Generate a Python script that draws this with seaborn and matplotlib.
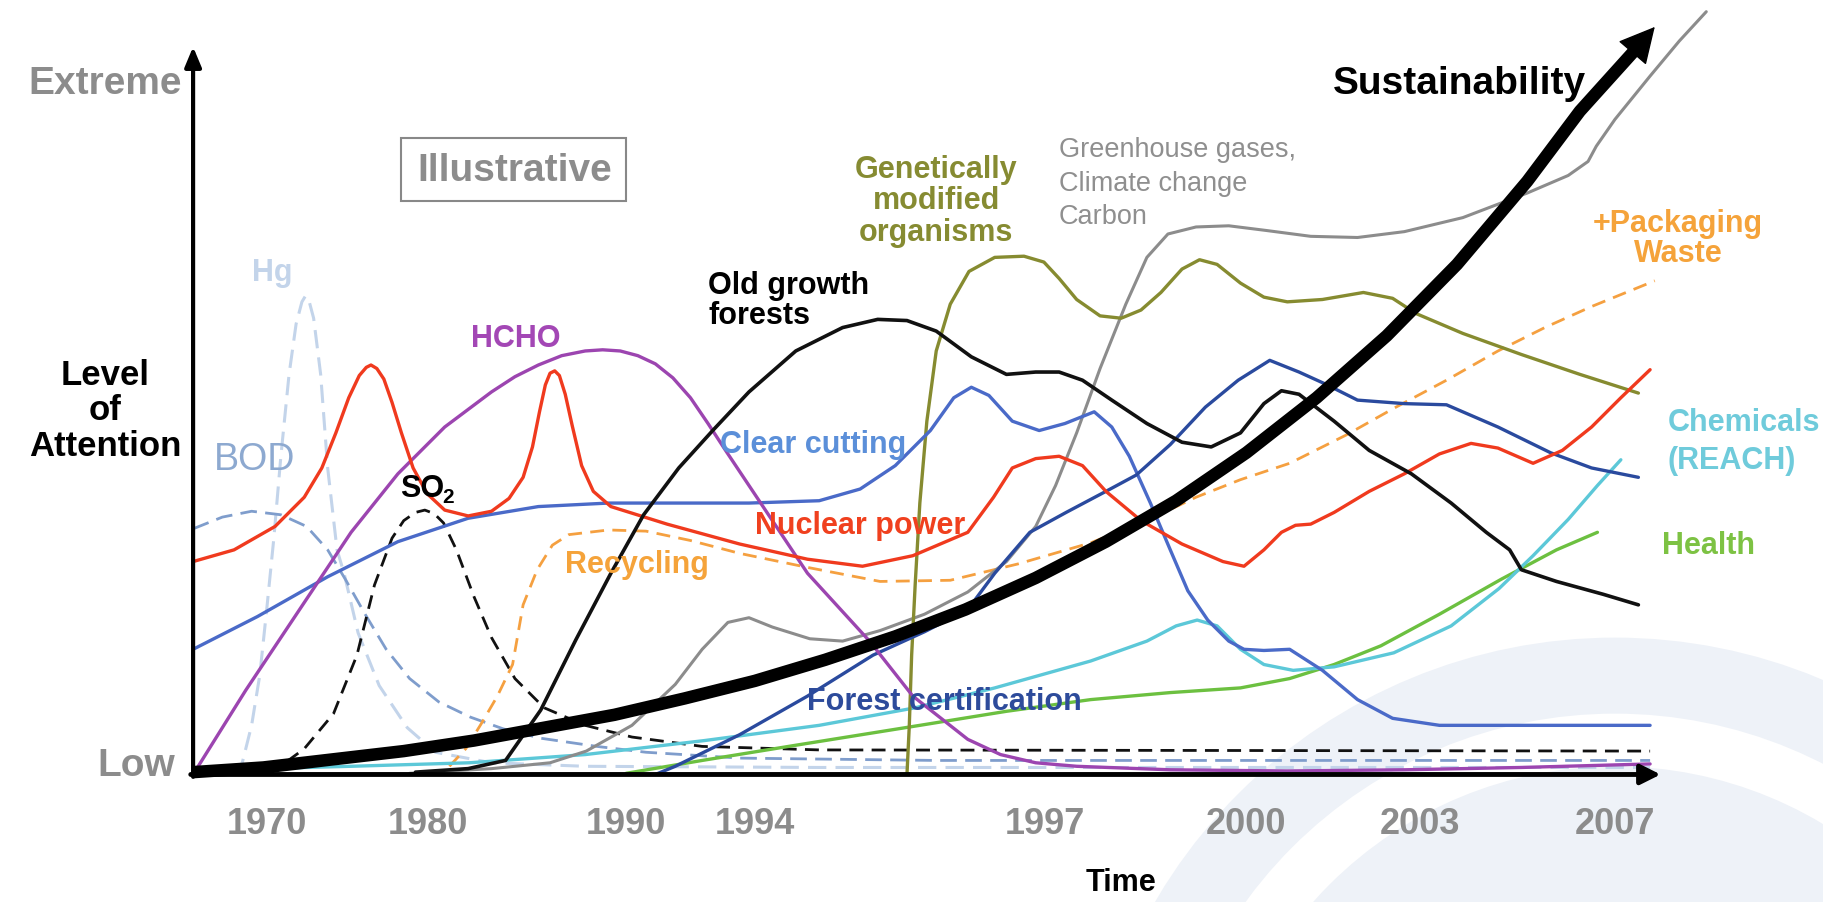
import pandas as pd
import seaborn as sns
import matplotlib.pyplot as plt
from matplotlib.patches import Rectangle, Circle

sns.set_theme(style='white')
plt.rcParams['font.family'] = ['Liberation Sans', 'DejaVu Sans']

# x = position along the (non linear) time axis, y = level of attention
year_labels = ['1970', '1980', '1990', '1994', '1997', '2000', '2003', '2007']
year_pos = [63, 201, 370, 480, 728, 900, 1048, 1215]

sust_x = [0, 60, 120, 180, 240, 300, 360, 420, 480, 540, 600, 660, 720, 780, 840, 900, 960, 1020,
          1080, 1140, 1185, 1231, 1249]
sust_y = [2, 6, 13, 20, 29, 40, 51, 65, 80, 98, 118, 141, 168, 199, 234, 275, 322, 375,
          436, 507, 567, 618, 639]

hg_x = [35, 42, 50, 57, 63, 69, 75, 82, 88, 93, 96, 99, 103, 109, 115, 123, 129, 141, 159, 183, 207, 255, 335,
        535, 835, 1245]
hg_y = [0, 10, 42, 85, 142, 202, 272, 342, 385, 404, 409, 405, 390, 342, 262, 192, 172, 121, 76, 40, 19, 10, 7,
        6, 6, 6]

bod_x = [0, 25, 50, 75, 97, 115, 130, 147, 165, 185, 210, 237, 265, 297, 345, 387, 467, 635, 835, 1245]
bod_y = [210, 220, 225, 222, 212, 192, 167, 137, 107, 82, 62, 49, 39, 31, 24, 19, 14, 12, 12, 12]

so2_x = [65, 95, 120, 140, 155, 170, 180, 190, 198, 206, 214, 225, 240, 255, 275, 300, 335, 375, 435, 535, 1245]
so2_y = [0, 22, 52, 102, 162, 202, 217, 224, 226, 223, 215, 192, 152, 117, 82, 57, 42, 32, 24, 21, 20]

nuclear_x = [0, 35, 70, 95, 110, 122, 133, 142, 148, 152, 157, 163, 170, 178, 188, 200, 215, 235, 255, 270,
             282, 290, 296, 301, 305, 309, 313, 318, 324, 332, 342, 357, 405, 467, 525, 572, 615, 662, 684,
             700, 720, 740, 760, 780, 810, 845, 880, 898, 915, 930, 942, 955, 975, 1005, 1035, 1065, 1092,
             1115, 1145, 1170, 1195, 1220, 1245]
nuclear_y = [182, 192, 212, 237, 262, 292, 322, 341, 348, 350, 347, 338, 318, 292, 262, 240, 226, 221, 225, 236,
             254, 280, 310, 333, 343, 345, 341, 325, 298, 264, 242, 229, 214, 197, 184, 178, 187, 207, 237,
             262, 270, 272, 264, 242, 217, 197, 182, 178, 192, 207, 213, 214, 224, 242, 257, 274, 283,
             279, 266, 277, 297, 322, 346]

hcho_x = [0, 45, 95, 135, 175, 215, 255, 275, 295, 315, 335, 350, 365, 380, 395, 410, 425, 440, 455, 485,
          525, 578, 615, 662, 690, 720, 755, 835, 935, 1035, 1135, 1245]
hcho_y = [0, 72, 147, 207, 257, 297, 327, 340, 350, 358, 362, 363, 362, 358, 351, 339, 322, 300, 277, 232,
          172, 114, 67, 30, 17, 10, 7, 4, 3, 4, 6, 9]

clear_x = [0, 55, 115, 175, 235, 295, 355, 475, 535, 570, 600, 630, 650, 665, 680, 700, 723, 745, 770, 785,
           800, 818, 835, 850, 867, 885, 898, 915, 937, 965, 995, 1025, 1065, 1245]
clear_y = [107, 135, 169, 199, 219, 229, 232, 232, 234, 244, 264, 294, 322, 331, 324, 302, 294, 300, 310, 297,
           272, 232, 192, 157, 132, 114, 107, 106, 107, 89, 64, 48, 42, 42]

cert_x = [395, 412, 467, 525, 581, 625, 662, 685, 715, 746, 780, 806, 835, 865, 893, 920, 945, 967, 995,
          1035, 1071, 1115, 1160, 1195, 1235]
cert_y = [0, 7, 34, 67, 102, 122, 141, 172, 207, 224, 242, 256, 282, 314, 337, 354, 344, 334, 320,
          317, 316, 297, 275, 262, 254]

forest_x = [190, 235, 267, 297, 327, 357, 385, 415, 444, 475, 515, 555, 585, 610, 635, 665, 695, 720, 740,
            760, 785, 815, 845, 870, 895, 915, 930, 945, 975, 1005, 1041, 1075, 1105, 1125, 1135, 1165,
            1205, 1235]
forest_y = [2, 5, 12, 55, 115, 172, 222, 262, 294, 327, 362, 382, 389, 388, 379, 357, 342, 344, 344,
            337, 320, 300, 284, 280, 292, 317, 328, 325, 302, 277, 257, 232, 207, 192, 175, 165,
            154, 145]

recycling_x = [219, 233, 246, 260, 273, 282, 294, 307, 321, 355, 387, 425, 467, 525, 587, 647, 705, 767,
               815, 857, 895, 937, 985, 1026, 1071, 1115, 1155, 1195, 1249]
recycling_y = [7, 22, 43, 67, 94, 145, 175, 196, 205, 209, 208, 200, 189, 177, 165, 166, 180, 198,
               217, 237, 252, 266, 290, 313, 337, 362, 382, 400, 422]

ghg_x = [185, 255, 305, 336, 375, 412, 435, 457, 475, 495, 527, 555, 587, 625, 662, 695, 720, 737, 755,
         775, 797, 815, 833, 857, 885, 917, 955, 995, 1035, 1085, 1140, 1175, 1192, 1199, 1215, 1245,
         1270, 1293]
ghg_y = [1, 5, 10, 20, 42, 77, 107, 130, 134, 126, 116, 114, 123, 137, 156, 182, 212, 247, 292,
         347, 402, 442, 462, 468, 469, 465, 460, 459, 464, 476, 497, 512, 524, 537, 560, 597,
         627, 652]

gmo_x = [610, 612, 614, 617, 621, 627, 635, 647, 663, 685, 710, 727, 740, 755, 775, 793, 810, 827, 845,
         860, 875, 895, 915, 935, 965, 1000, 1025, 1045, 1085, 1135, 1185, 1235]
gmo_y = [0, 42, 102, 162, 232, 302, 362, 402, 430, 442, 443, 438, 424, 406, 392, 390, 397, 412, 432,
         440, 436, 420, 408, 404, 406, 412, 407, 394, 377, 359, 342, 326]

chem_x = [20, 135, 236, 335, 437, 535, 617, 685, 767, 815, 840, 858, 875, 895, 915, 940, 975, 1026, 1075,
          1116, 1145, 1175, 1200, 1220]
chem_y = [4, 7, 10, 17, 29, 42, 57, 74, 97, 114, 127, 132, 127, 107, 94, 89, 92, 104, 127,
          159, 187, 218, 247, 269]

health_x = [370, 435, 515, 621, 695, 767, 835, 895, 937, 975, 1015, 1065, 1118, 1165, 1200]
health_y = [1, 12, 25, 42, 54, 64, 70, 74, 82, 94, 110, 137, 167, 192, 207]

# (x, y, colour, width, dash, z)
series = [
    (hg_x, hg_y, '#c3d4ea', 2.2, (0, (6, 3)), 2),
    (bod_x, bod_y, '#7f9dcc', 2.0, (0, (6, 3)), 2),
    (so2_x, so2_y, '#111111', 2.0, (0, (5, 3)), 3),
    (recycling_x, recycling_y, '#f5a040', 2.0, (0, (5, 3)), 3),
    (health_x, health_y, '#6cc040', 2.4, '-', 3),
    (chem_x, chem_y, '#5cc8d8', 2.4, '-', 3),
    (ghg_x, ghg_y, '#8c8c8c', 2.2, '-', 3),
    (gmo_x, gmo_y, '#868b30', 2.4, '-', 3),
    (clear_x, clear_y, '#4a6ac8', 2.4, '-', 3),
    (cert_x, cert_y, '#2a4a9e', 2.4, '-', 3),
    (hcho_x, hcho_y, '#9c45b0', 2.4, '-', 3),
    (nuclear_x, nuclear_y, '#f03a1e', 2.4, '-', 3),
    (forest_x, forest_y, '#111111', 2.6, '-', 3),
]

fig = plt.figure(figsize=(18.35, 9.02), dpi=100)
ax = fig.add_axes([0, 0, 1, 1])
ax.set_xlim(-165, 1403)
ax.set_ylim(-109, 662)
ax.axis('off')

# faint logo in the background
for r, fc in [(455, '#eef2f8'), (390, 'white'), (345, '#eef2f8')]:
    ax.add_patch(Circle((1215, -338), r, fc=fc, ec='none', zorder=0))
ax.add_patch(Rectangle((1393, -120), 30, 800, fc='white', ec='none', zorder=0.5))

for xs, ys, c, lw, ls, z in series:
    sns.lineplot(x=xs, y=ys, ax=ax, color=c, lw=lw, linestyle=ls, sort=False,
                 estimator=None, zorder=z, solid_capstyle='round', solid_joinstyle='round')

# sustainability arrow
sns.lineplot(x=sust_x[:-1], y=sust_y[:-1], ax=ax, color='black', lw=9, sort=False,
             estimator=None, zorder=5, solid_capstyle='butt', solid_joinstyle='round')
ax.annotate('', xy=(sust_x[-1], sust_y[-1]), xytext=(sust_x[-2], sust_y[-2]),
            arrowprops=dict(arrowstyle='-|>,head_length=0.58,head_width=0.3', mutation_scale=40,
                            fc='black', ec='black', lw=1, shrinkA=0, shrinkB=0), zorder=5)

# axes with arrows
ax.annotate('', xy=(0, 622), xytext=(0, -2),
            arrowprops=dict(arrowstyle='-|>,head_length=0.6,head_width=0.25', mutation_scale=20,
                            fc='black', ec='black', lw=3, shrinkA=0, shrinkB=0), zorder=6)
ax.annotate('', xy=(1254, 0), xytext=(-2, 0),
            arrowprops=dict(arrowstyle='-|>,head_length=0.6,head_width=0.3', mutation_scale=20,
                            fc='black', ec='black', lw=3.5, shrinkA=0, shrinkB=0), zorder=6)

grey = '#8c8c8c'
ax.text(-10, 590, 'Extreme', color=grey, fontsize=28, fontweight='bold', ha='right', va='center')
ax.text(-15, 7, 'Low', color=grey, fontsize=28, fontweight='bold', ha='right', va='center')
ax.text(-75, 311, 'Level\nof\nAttention', color='black', fontsize=25, fontweight='bold',
        ha='center', va='center', linespacing=1.1)
for lab, pos in zip(year_labels, year_pos):
    ax.text(pos, -43, lab, color=grey, fontsize=26, fontweight='bold', ha='center', va='center')
ax.text(793, -93, 'Time', color='black', fontsize=22, fontweight='bold', ha='center', va='center')

ax.add_patch(Rectangle((178, 490), 192, 54, fc='none', ec='#888888', lw=1.5, zorder=4))
ax.text(275, 516, 'Illustrative', color=grey, fontsize=28, fontweight='bold', ha='center', va='center')
ax.text(1190, 590, 'Sustainability', color='black', fontsize=28, fontweight='bold', ha='right',
        va='center', zorder=7)

lab_kw = dict(fontsize=22, fontweight='bold', va='center', zorder=7)
ax.text(68, 429, 'Hg', color='#c3d4ea', ha='center', **lab_kw)
ax.text(276, 372, 'HCHO', color='#a347b5', ha='center', **lab_kw)
ax.text(440, 405, 'Old growth\nforests', color='black', ha='left', linespacing=1.0, **lab_kw)
ax.text(635, 490, 'Genetically\nmodified\norganisms', color='#868b32', ha='center', linespacing=1.07,
        **lab_kw)
ax.text(740, 505, 'Greenhouse gases,\nClimate change\nCarbon', color='#8f8f8f', fontsize=19.5,
        ha='left', va='center', linespacing=1.37, zorder=7)
ax.text(1269, 458, '+Packaging\nWaste', color='#f5a33a', ha='center', linespacing=1.0, **lab_kw)
ax.text(1260, 284, 'Chemicals\n(REACH)', color='#6fcbdb', ha='left', linespacing=1.35, **lab_kw)
ax.text(1255, 195, 'Health', color='#7dc243', ha='left', **lab_kw)
ax.text(450, 282, 'Clear cutting', color='#5b8fd9', ha='left', **lab_kw)
ax.text(18, 269, 'BOD', color='#8da9d0', fontsize=27, ha='left', va='center', zorder=7)
ax.text(177, 244, 'SO', color='black', ha='left', **lab_kw)
ax.text(213, 237, '2', color='black', fontsize=15, fontweight='bold', ha='left', va='center', zorder=7)
ax.text(480, 212, 'Nuclear power', color='#f0401e', ha='left', **lab_kw)
ax.text(318, 179, 'Recycling', color='#f5a33a', ha='left', **lab_kw)
ax.text(525, 62, 'Forest certification', color='#2d4b9b', ha='left', **lab_kw)

fig.savefig('out.png', dpi=100)
